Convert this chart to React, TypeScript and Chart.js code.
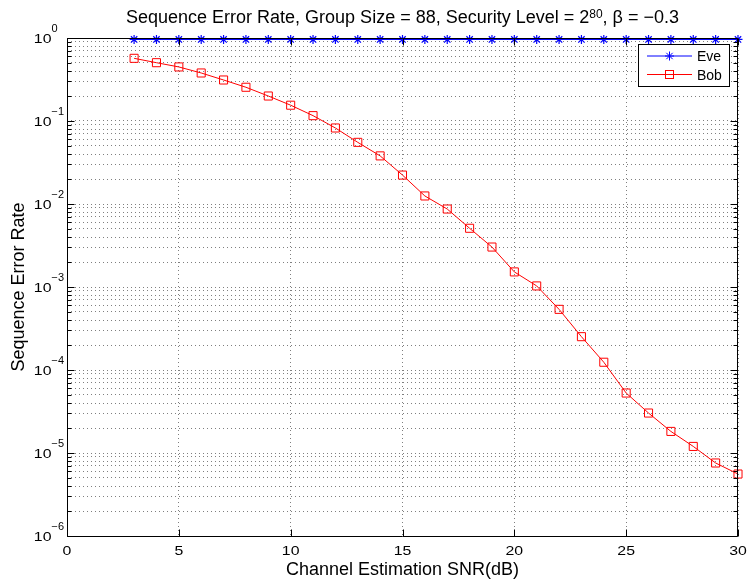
import React, { useEffect, useRef } from 'react';
import { Chart, registerables } from 'chart.js';

Chart.register(...registerables);

// ---- data ----
const snrDb = [3, 4, 5, 6, 7, 8, 9, 10, 11, 12, 13, 14, 15, 16, 17, 18, 19, 20, 21, 22, 23, 24, 25, 26, 27, 28, 29, 30];
const eveRate = [0.96, 0.96, 0.96, 0.96, 0.96, 0.96, 0.96, 0.96, 0.96, 0.96, 0.96, 0.96, 0.96, 0.96, 0.96, 0.96, 0.96, 0.96, 0.96, 0.96, 0.96, 0.96, 0.96, 0.96, 0.96, 0.96, 0.96, 0.96];
const bobRate = [0.569, 0.504, 0.448, 0.379, 0.312, 0.255, 0.2, 0.155, 0.116, 0.0824, 0.0553, 0.038, 0.0223, 0.0125, 0.0087, 0.0051, 0.00303, 0.00152, 0.00103, 0.000538, 0.000252, 0.000124, 5.28e-5, 3.03e-5, 1.82e-5, 1.2e-5, 7.58e-6, 5.58e-6];

const xTickValues = [0, 5, 10, 15, 20, 25, 30];
const xTickLabels = ['0', '5', '10', '15', '20', '25', '30'];
const yDecadeExponents = [-6, -5, -4, -3, -2, -1, 0];
const yTickBase = '10';
const yTickExpLabels = ['\u22126', '\u22125', '\u22124', '\u22123', '\u22122', '\u22121', '0'];
const yMinorMultipliers = [2, 3, 4, 5, 6, 7, 8, 9];

const titleMain = 'Sequence Error Rate, Group Size = 88, Security Level = 2';
const titleSup = '80';
const titleTail = ', \u03b2 = \u22120.3';
const xAxisTitle = 'Channel Estimation SNR(dB)';
const yAxisTitle = 'Sequence Error Rate';
const seriesNames = ['Eve', 'Bob'];
const seriesColors = ['#0000ff', '#ff0000'];

const FONT = '"Liberation Sans", Arial, Helvetica, sans-serif';

function txt(ctx: CanvasRenderingContext2D, s: string, x: number, y: number, size: number, align: 'left' | 'center' | 'right', sx = 1) {
  ctx.save();
  ctx.font = `${size}px ${FONT}`;
  const w = ctx.measureText(s).width * sx;
  const x0 = align === 'left' ? x : align === 'center' ? x - w / 2 : x - w;
  ctx.translate(x0, y);
  ctx.scale(sx, 1);
  ctx.textAlign = 'left';
  ctx.textBaseline = 'alphabetic';
  ctx.fillText(s, 0, 0);
  ctx.restore();
  return w;
}

function measure(ctx: CanvasRenderingContext2D, s: string, size: number) {
  ctx.save();
  ctx.font = `${size}px ${FONT}`;
  const w = ctx.measureText(s).width;
  ctx.restore();
  return w;
}

function drawStar(ctx: CanvasRenderingContext2D, x: number, y: number, r: number) {
  const d = r * Math.SQRT1_2;
  ctx.beginPath();
  ctx.moveTo(x - r, y); ctx.lineTo(x + r, y);
  ctx.moveTo(x, y - r); ctx.lineTo(x, y + r);
  ctx.moveTo(x - d, y - d); ctx.lineTo(x + d, y + d);
  ctx.moveTo(x - d, y + d); ctx.lineTo(x + d, y - d);
  ctx.stroke();
}

const matlabPlugin = {
  id: 'matlabDecor',
  afterDraw(chart: any) {
    const { ctx, chartArea: a, scales } = chart;
    const xs = scales.x;
    const ys = scales.y;
    const L = Math.floor(a.left) + 0.5;
    const R = Math.floor(a.right) - 0.5;
    const T = Math.floor(a.top) + 0.5;
    const B = Math.floor(a.bottom) + 0.5;
    ctx.save();
    ctx.strokeStyle = '#000';
    ctx.fillStyle = '#000';
    ctx.lineWidth = 1;
    ctx.setLineDash([]);

    // box
    ctx.beginPath();
    ctx.rect(L, T, R - L, B - T);
    ctx.stroke();

    // x ticks (bottom and top)
    ctx.beginPath();
    xTickValues.forEach((v) => {
      const px = Math.round(xs.getPixelForValue(v)) + 0.5;
      ctx.moveTo(px, B); ctx.lineTo(px, B - 7);
      ctx.moveTo(px, T); ctx.lineTo(px, T + 7);
    });
    // y ticks (left and right), major and minor
    yDecadeExponents.forEach((e) => {
      const py = Math.round(ys.getPixelForValue(Math.pow(10, e))) + 0.5;
      ctx.moveTo(L, py); ctx.lineTo(L + 7, py);
      ctx.moveTo(R, py); ctx.lineTo(R - 7, py);
      if (e < 0) {
        yMinorMultipliers.forEach((m) => {
          const q = Math.round(ys.getPixelForValue(m * Math.pow(10, e))) + 0.5;
          ctx.moveTo(L, q); ctx.lineTo(L + 4, q);
          ctx.moveTo(R, q); ctx.lineTo(R - 4, q);
        });
      }
    });
    ctx.stroke();

    // x tick labels
    xTickValues.forEach((v, i) => {
      const px = xs.getPixelForValue(v);
      txt(ctx, xTickLabels[i], px, 555, 13, 'center', 1.22);
    });
    // y tick labels 10^e
    yDecadeExponents.forEach((e, i) => {
      const py = ys.getPixelForValue(Math.pow(10, e));
      txt(ctx, yTickBase, 51.5, py + 5, 13, 'right', 1.22);
      txt(ctx, yTickExpLabels[i], 51.5, py - 6, 10, 'left', 1.1);
    });

    // axis titles
    const cx = (a.left + a.right) / 2;
    txt(ctx, xAxisTitle, cx, 575, 18, 'center');
    ctx.save();
    ctx.translate(24, (a.top + a.bottom) / 2);
    ctx.rotate(-Math.PI / 2);
    txt(ctx, yAxisTitle, 0, 0, 18, 'center');
    ctx.restore();

    // title with superscript
    const w1 = measure(ctx, titleMain, 18);
    const w2 = measure(ctx, titleSup, 12);
    const w3 = measure(ctx, titleTail, 18);
    let tx = cx - (w1 + w2 + w3) / 2;
    txt(ctx, titleMain, tx, 23, 18, 'left'); tx += w1;
    txt(ctx, titleSup, tx, 18, 12, 'left'); tx += w2;
    txt(ctx, titleTail, tx, 23, 18, 'left');

    // legend
    const lx = 638.5, ly = 44.5, lw = 91, lh = 42;
    ctx.fillStyle = '#fff';
    ctx.fillRect(lx, ly, lw, lh);
    ctx.strokeStyle = '#000';
    ctx.strokeRect(lx, ly, lw, lh);
    const rows = [56, 74.5];
    seriesNames.forEach((name, i) => {
      const ry = rows[i];
      ctx.strokeStyle = seriesColors[i];
      ctx.lineWidth = 1;
      ctx.beginPath();
      ctx.moveTo(647, ry); ctx.lineTo(692, ry);
      ctx.stroke();
      if (i === 0) {
        drawStar(ctx, 669.5, ry, 4.5);
      } else {
        ctx.strokeRect(665.5, ry - 4, 8, 8);
      }
      ctx.fillStyle = '#000';
      txt(ctx, name, 697, ry + 5, 14, 'left');
    });
    ctx.restore();
  },
};

export default function App() {
  const ref = useRef<HTMLCanvasElement | null>(null);
  useEffect(() => {
    if (!ref.current) return;
    const gridColor = 'rgba(0,0,0,0.5)';
    const yTicks: number[] = [];
    yDecadeExponents.forEach((e) => {
      yTicks.push(Math.pow(10, e));
      if (e < 0) yMinorMultipliers.forEach((m) => yTicks.push(m * Math.pow(10, e)));
    });
    const chart = new Chart(ref.current, {
      type: 'line',
      data: {
        datasets: [
          {
            label: seriesNames[0],
            data: snrDb.map((x, i) => ({ x, y: eveRate[i] })),
            borderColor: seriesColors[0],
            backgroundColor: seriesColors[0],
            borderWidth: 1,
            pointStyle: 'star',
            pointRadius: 4.5,
            pointBorderWidth: 1.2,
            pointBorderColor: seriesColors[0],
            pointBackgroundColor: seriesColors[0],
            tension: 0,
            clip: false,
          } as any,
          {
            label: seriesNames[1],
            data: snrDb.map((x, i) => ({ x, y: bobRate[i] })),
            borderColor: seriesColors[1],
            backgroundColor: 'rgba(0,0,0,0)',
            borderWidth: 1,
            pointStyle: 'rect',
            pointRadius: 5.7,
            pointBorderWidth: 1,
            pointBorderColor: seriesColors[1],
            pointBackgroundColor: 'rgba(0,0,0,0)',
            tension: 0,
            clip: false,
          } as any,
        ],
      },
      options: {
        responsive: false,
        animation: false,
        devicePixelRatio: 1,
        events: [],
        layout: { padding: { top: 38, right: 10, left: 0, bottom: 0 } },
        plugins: { legend: { display: false }, title: { display: false }, tooltip: { enabled: false } },
        scales: {
          x: {
            type: 'linear',
            min: 0,
            max: 30,
            afterBuildTicks: (s: any) => { s.ticks = xTickValues.map((v) => ({ value: v })); },
            afterFit: (s: any) => { s.height = 45; },
            ticks: { display: false },
            grid: { color: gridColor, lineWidth: 1, drawTicks: false },
            border: { display: false, dash: [1, 3] },
          },
          y: {
            type: 'logarithmic',
            min: 1e-6,
            max: 1,
            afterBuildTicks: (s: any) => { s.ticks = yTicks.map((v) => ({ value: v })); },
            afterFit: (s: any) => { s.width = 67; },
            ticks: { display: false },
            grid: { color: gridColor, lineWidth: 1, drawTicks: false },
            border: { display: false, dash: [1, 3] },
          },
        },
      } as any,
      plugins: [matlabPlugin],
    });
    return () => chart.destroy();
  }, []);
  return (
    <div style={{ position: 'absolute', left: 0, top: 0, width: 748, height: 581, background: '#fff' }}>
      <canvas ref={ref} width={748} height={581} style={{ display: 'block' }} />
    </div>
  );
}
